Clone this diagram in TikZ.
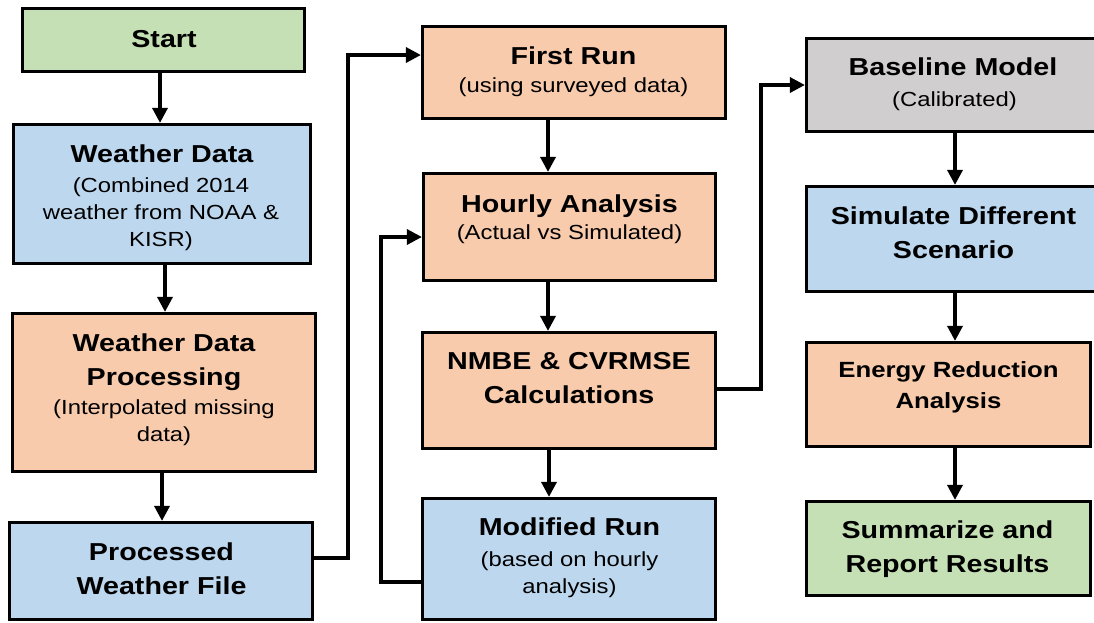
\documentclass[tikz,border=0pt]{standalone}
\usepackage{fontspec}
\setmainfont{Liberation Sans}[FakeStretch=1.17]
\usetikzlibrary{arrows.meta}
\definecolor{boxgreen}{HTML}{C5E0B4}
\definecolor{boxblue}{HTML}{BDD7EE}
\definecolor{boxorange}{HTML}{F8CBAD}
\definecolor{boxgray}{HTML}{D0CECE}

\begin{document}
\begin{tikzpicture}[x=1pt,y=-1pt,
  box/.style={draw=black, line width=3.2pt, inner sep=0pt, outer sep=1.6pt, rectangle},
  ttl/.style={anchor=base, align=center, inner sep=0pt, font=\fontsize{24.5}{33.5}\selectfont\bfseries},
  ttlsmall/.style={anchor=base, align=center, inner sep=0pt, font=\fontsize{22}{31}\selectfont\bfseries},
  sub/.style={anchor=base, align=center, inner sep=0pt, font=\fontsize{20.4}{27}\selectfont},
  arr/.style={line width=3.4pt, -{Triangle[length=15pt,width=15pt]}}]

\useasboundingbox (0,0) rectangle (1094,622);
\clip (0,0) rectangle (1094,622);

% ---- boxes ----
\node[box, fill=boxgreen,  minimum width=282pt, minimum height=63pt]  (start) at (163.5,40) {};
\node[box, fill=boxblue,   minimum width=297pt, minimum height=139pt] (wd)    at (162,194) {};
\node[box, fill=boxorange, minimum width=303pt, minimum height=158pt] (wdp)   at (164,392.5) {};
\node[box, fill=boxblue,   minimum width=303pt, minimum height=97pt]  (pwf)   at (161,571) {};

\node[box, fill=boxorange, minimum width=303pt, minimum height=92pt]  (fr)    at (574,72.5) {};
\node[box, fill=boxorange, minimum width=292pt, minimum height=107pt] (ha)    at (569.5,227) {};
\node[box, fill=boxorange, minimum width=293pt, minimum height=116pt] (nm)    at (569,390.5) {};
\node[box, fill=boxblue,   minimum width=293pt, minimum height=121pt] (mr)    at (569,559) {};

\node[box, fill=boxgray,   minimum width=295.5pt, minimum height=93pt]  (bm) at (954.25,85) {};
\node[box, fill=boxblue,   minimum width=295.5pt, minimum height=105pt] (sd) at (954.25,239) {};
\node[box, fill=boxorange, minimum width=284pt,   minimum height=104pt] (er) at (948.5,394.5) {};
\node[box, fill=boxgreen,  minimum width=284pt,   minimum height=94pt]  (sr) at (948.5,548.5) {};

% ---- texts (each placed by the baseline of its last line) ----
\node[ttl] (start-t) at (164,47) {Start};
\node[ttl] (wd-t)  at (162,162) {Weather Data};
\node[sub] (wd-s)  at (161,246) {(Combined 2014\\weather from NOAA \&\\KISR)};
\node[ttl] (wdp-t) at (164,385) {Weather Data\\Processing};
\node[sub] (wdp-s) at (164,441) {(Interpolated missing\\data)};
\node[ttl] (pwf-t) at (161.5,594) {Processed\\Weather File};

\node[ttl] (fr-t) at (573.5,64.5) {First Run};
\node[sub] (fr-s) at (573.5,92.5) {(using surveyed data)};
\node[ttl] (ha-t) at (569.5,212) {Hourly Analysis};
\node[sub] (ha-s) at (569.5,239) {(Actual vs Simulated)};
\node[ttl] (nm-t) at (569,403) {NMBE \& CVRMSE\\Calculations};
\node[ttl] (mr-t) at (569.5,535) {Modified Run};
\node[sub] (mr-s) at (569.5,593) {(based on hourly\\analysis)};

\node[ttl] (bm-t) at (953,75) {Baseline Model};
\node[sub] (bm-s) at (954.5,106) {(Calibrated)};
\node[ttl] (sd-t) at (953.5,258) {Simulate Different\\Scenario};
\node[ttlsmall] (er-t) at (948.5,408) {Energy Reduction\\Analysis};
\node[ttl] (sr-t) at (947.5,572) {Summarize and\\Report Results};

% ---- elbow junctions ----
\coordinate (j1)  at (348,558);
\coordinate (j1t) at (348,55);
\coordinate (j2)  at (381,582);
\coordinate (j2t) at (381,237);
\coordinate (j3)  at (761,389);
\coordinate (j3t) at (761,85);

% ---- straight connectors ----
\draw[arr] ([xshift=-3.5pt]start.south) -- ([xshift=-3.5pt]start.south |- wd.north);
\draw[arr] ([xshift=3pt]wd.south)       -- ([xshift=3pt]wd.south |- wdp.north);
\draw[arr] ([xshift=-2pt]wdp.south)     -- ([xshift=-2pt]wdp.south |- pwf.north);

\draw[arr] ([xshift=-26pt]fr.south)     -- ([xshift=-26pt]fr.south |- ha.north);
\draw[arr] ([xshift=-21.5pt]ha.south)   -- ([xshift=-21.5pt]ha.south |- nm.north);
\draw[arr] ([xshift=-20pt]nm.south)     -- ([xshift=-20pt]nm.south |- mr.north);

\draw[arr] ([xshift=0.75pt]bm.south)    -- ([xshift=0.75pt]bm.south |- sd.north);
\draw[arr] ([xshift=0.75pt]sd.south)    -- ([xshift=0.75pt]sd.south |- er.north);
\draw[arr] ([xshift=6.5pt]er.south)     -- ([xshift=6.5pt]er.south |- sr.north);

% ---- elbow connectors ----
\draw[arr] (pwf.east |- j1) -- (j1) -- (j1t) -- (fr.west |- j1t);
\draw[arr] (mr.west |- j2)  -- (j2) -- (j2t) -- (ha.west |- j2t);
\draw[arr] (nm.east |- j3)  -- (j3) -- (j3t) -- (bm.west |- j3t);
\end{tikzpicture}
\end{document}
